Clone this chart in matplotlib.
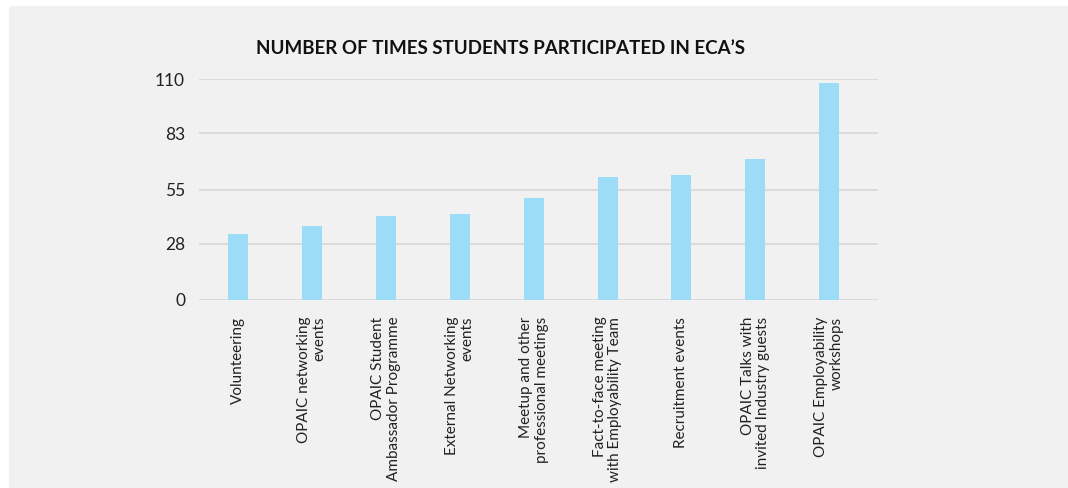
import matplotlib.pyplot as plt
from matplotlib.patches import Rectangle

plt.rcParams['font.family'] = ['Lato', 'DejaVu Sans']

activities = [
    'Volunteering',
    'OPAIC networking\nevents',
    'OPAIC Student\nAmbassador Programme',
    'External Networking\nevents',
    'Meetup and other\nprofessional meetings',
    'Fact-to-face meeting\nwith Employability Team',
    'Recruitment events',
    'OPAIC Talks with\ninvited Industry guests',
    'OPAIC Employability\nworkshops',
]
times = [33, 37, 42, 43, 51, 61, 62, 70, 108]
y_ticks = [0, 28, 55, 83, 110]

bg = '#f1f1f1'
bar_color = '#9ddcf7'
grid_color = '#d9d9d9'

fig = plt.figure(figsize=(10.68, 4.88), dpi=100, facecolor='white')
# grey panel with a thin white margin on the top and left
fig.patches.append(Rectangle((9 / 1068, 0), 1 - 9 / 1068, 1 - 6 / 488, transform=fig.transFigure,
                             facecolor=bg, edgecolor='none', zorder=-1))

ax = fig.add_axes([199 / 1068, 1 - 300 / 488, 679 / 1068, 221 / 488])
ax.set_zorder(1)
ax.set_facecolor(bg)

x = list(range(len(activities)))
ax.bar(x, times, width=0.27, color=bar_color, zorder=2)

ax.set_ylim(0, 110)
ax.set_xlim(-0.53, 8.66)
ax.set_yticks(y_ticks)
ax.set_yticklabels([str(t) for t in y_ticks], fontsize=12.5, color='#222222')
for t in y_ticks:
    ax.axhline(t, color=grid_color, linewidth=1.3, zorder=1)

ax.set_xticks(x)
ax.set_xticklabels(activities, rotation=90, fontsize=11, color='#222222',
                   ha='center', va='top', multialignment='right', linespacing=1.15)
ax.tick_params(axis='both', length=0)
ax.tick_params(axis='y', pad=10)
ax.tick_params(axis='x', pad=12)
for s in ax.spines.values():
    s.set_visible(False)

fig.text(501 / 1068, 1 - 48 / 488, "NUMBER OF TIMES STUDENTS PARTICIPATED IN ECA\u2019S",
         ha='center', va='center', fontsize=13.5, fontweight='bold', color='#111111')

fig.savefig('out.png', dpi=100, facecolor=fig.get_facecolor())
